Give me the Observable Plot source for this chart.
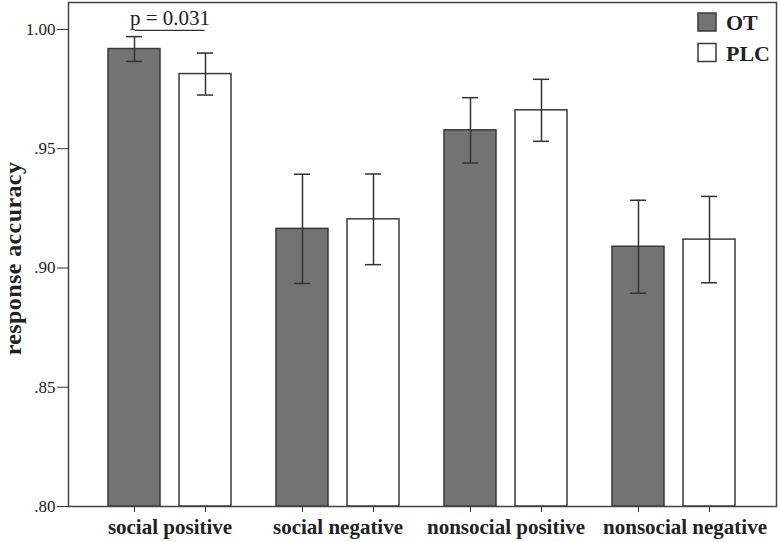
<!DOCTYPE html>
<html><head><meta charset="utf-8">
<script src="https://cdn.jsdelivr.net/npm/d3@7"></script>
<script src="https://cdn.jsdelivr.net/npm/@observablehq/plot@0.6"></script>
<style>body{margin:0;background:#fff} #chart{width:780px;height:542px}</style>
</head><body><div id="chart"></div>
<script>
const categories = ["social positive", "social negative", "nonsocial positive", "nonsocial negative"];
const series = ["OT", "PLC"];
const seriesFill = ["#737373", "#ffffff"];
const otMean = [0.9918, 0.9164, 0.9577, 0.9089];
const otErr = [0.0052, 0.0229, 0.0137, 0.0195];
const plcMean = [0.9813, 0.9204, 0.9661, 0.9119];
const plcErr = [0.0088, 0.0190, 0.0130, 0.0181];
const yTicks = [0.80, 0.85, 0.90, 0.95, 1.00];
const yMin = 0.80, yMax = 1.0113;
const pCategory = ["social positive"];
const pLabel = ["p = 0.031"];
const pLabelY = [1.0017];
const pLineY = [0.9996];

const rows = categories.flatMap((c, i) => [
  {category: c, series: "OT", mean: otMean[i], err: otErr[i]},
  {category: c, series: "PLC", mean: plcMean[i], err: plcErr[i]}
]);
const ot = rows.filter(d => d.series === "OT");
const plc = rows.filter(d => d.series === "PLC");
const annot = pCategory.map((c, i) => ({category: c, label: pLabel[i], ty: pLabelY[i], ly: pLineY[i]}));

const W = 780, H = 542, mL = 68, mR = 4, mT = 2, mB = 36;
const off = 35.5, inner = 71, capInset = 53.5;
const ink = "#333";
const serif = "'Liberation Serif', 'Times New Roman', serif";
const fmt = d => d3.format(".2f")(d).replace(/^0/, "");
const labelStyle = {tickSize: 0, tickPadding: 13, fontSize: 21, fontWeight: "bold", label: null, fill: "#222"};

function errMarks(data, dx) {
  return [
    Plot.ruleX(data, {x: "category", y1: d => d.mean - d.err, y2: d => d.mean + d.err, dx, stroke: ink, strokeWidth: 1.5}),
    Plot.tickY(data, {x: "category", y: d => d.mean + d.err, dx, insetLeft: capInset, insetRight: capInset, stroke: ink, strokeWidth: 1.5}),
    Plot.tickY(data, {x: "category", y: d => d.mean - d.err, dx, insetLeft: capInset, insetRight: capInset, stroke: ink, strokeWidth: 1.5})
  ];
}

const plot = Plot.plot({
  width: W, height: H,
  marginLeft: mL, marginRight: mR, marginTop: mT, marginBottom: mB,
  style: {fontFamily: serif, background: "#fff", color: ink},
  x: {type: "band", domain: categories, paddingInner: 0.265, paddingOuter: 0.231},
  y: {domain: [yMin, yMax]},
  marks: [
    Plot.barY(ot, {x: "category", y1: yMin, y2: "mean", insetRight: inner, fill: seriesFill[0], stroke: "#3a3a3a", strokeWidth: 1.5}),
    Plot.barY(plc, {x: "category", y1: yMin, y2: "mean", insetLeft: inner, fill: seriesFill[1], stroke: "#3a3a3a", strokeWidth: 1.5}),
    ...errMarks(ot, -off),
    ...errMarks(plc, off),
    Plot.frame({stroke: "#444", strokeWidth: 1.5}),
    Plot.axisY({ticks: yTicks, tickSize: 11, tickPadding: 2, tickFormat: fmt, fontSize: 17, label: null, stroke: ink, fill: "#222"}),
    Plot.axisX({...labelStyle, ticks: categories.slice(0, 3)}),
    Plot.axisX({...labelStyle, ticks: categories.slice(3), dx: 11}),
    Plot.axisX({tickSize: 6, dx: -off, fill: "none", label: null, stroke: ink}),
    Plot.axisX({tickSize: 6, dx: off, fill: "none", label: null, stroke: ink}),
    Plot.text(annot, {x: "category", y: "ty", text: "label", lineAnchor: "bottom", fontSize: 21, fill: "#222"}),
    Plot.ruleY(annot, {x1: "category", x2: "category", y: "ly", insetLeft: 26.5, insetRight: 26.5, stroke: ink, strokeWidth: 1.3}),
    Plot.text(["response accuracy"], {frameAnchor: "left", textAnchor: "middle", rotate: -90, dx: -48, dy: 4, lineAnchor: "bottom", fontSize: 24, fontWeight: "bold", fill: "#222"})
  ]
});

const svg = d3.select(plot);
svg.selectAll("text").filter(function() { return this.textContent === "response accuracy"; })
  .style("letter-spacing", "0.4px");

// legend
const lg = svg.append("g").attr("font-family", serif).attr("text-anchor", "start");
series.forEach((s, i) => {
  lg.append("rect").attr("x", 698).attr("y", 13 + i * 30.5).attr("width", 18).attr("height", 18)
    .attr("fill", seriesFill[i]).attr("stroke", "#3a3a3a").attr("stroke-width", 1.5);
  lg.append("text").attr("x", 726).attr("y", 29.5 + i * 31).attr("font-size", 22).attr("font-weight", "bold")
    .attr("text-anchor", "start").attr("fill", "#222").text(s);
});

document.getElementById("chart").append(plot);
</script>
</body></html>
